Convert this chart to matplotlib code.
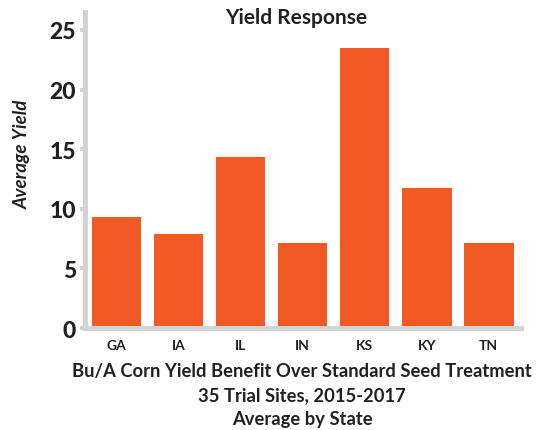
import matplotlib
matplotlib.use("Agg")
import matplotlib.pyplot as plt

states = ["GA", "IA", "IL", "IN", "KS", "KY", "TN"]
yields = [9.35, 7.9, 14.3, 7.15, 23.5, 11.7, 7.15]
yticks = [0, 5, 10, 15, 20, 25]

bar_col = "#F15A24"
axis_col = "#D3D3D3"
txt_col = "#231F20"

plt.rcParams['font.family'] = ['Lato', 'DejaVu Sans']

fig = plt.figure(figsize=(5.39, 4.31), dpi=100)
ax = fig.add_axes([85/539, 1 - 329/431, 436/539, 316/431])

x = range(len(states))
ax.bar(x, yields, width=0.8, color=bar_col, zorder=1)
ax.set_xlim(-0.508, 6.52)
ax.set_ylim(0, 26.5)

for s in ["top", "right"]:
    ax.spines[s].set_visible(False)
for s in ["left", "bottom"]:
    ax.spines[s].set_color(axis_col)
    ax.spines[s].set_linewidth(3.6)
    ax.spines[s].set_zorder(3)

ax.set_yticks(yticks)
ax.set_yticklabels([str(v) for v in yticks], fontsize=16.5, fontweight="black", color=txt_col)
ax.tick_params(axis="y", length=3.6, width=3, color=axis_col, pad=3)
ax.set_xticks(list(x))
ax.set_xticklabels(states, fontsize=10, fontweight="bold", color=txt_col)
ax.tick_params(axis="x", length=0, pad=8)

fig.text(296/539, 1 - 18/431, "Yield Response", ha="center", va="center",
         fontsize=15, fontweight="bold", color=txt_col)
fig.text(22/539, 1 - 154/431, "Average Yield", ha="center", va="center", rotation=90,
         fontsize=13.5, fontweight="bold", fontstyle="italic", color=txt_col)

lines = ["Bu/A Corn Yield Benefit Over Standard Seed Treatment",
         "35 Trial Sites, 2015-2017",
         "Average by State"]
for i, ln in enumerate(lines):
    fig.text(302/539, 1 - (372 + 24*i)/431, ln, ha="center", va="center",
             fontsize=13.2, fontweight="bold", color=txt_col)

fig.savefig("out.png", dpi=100)
